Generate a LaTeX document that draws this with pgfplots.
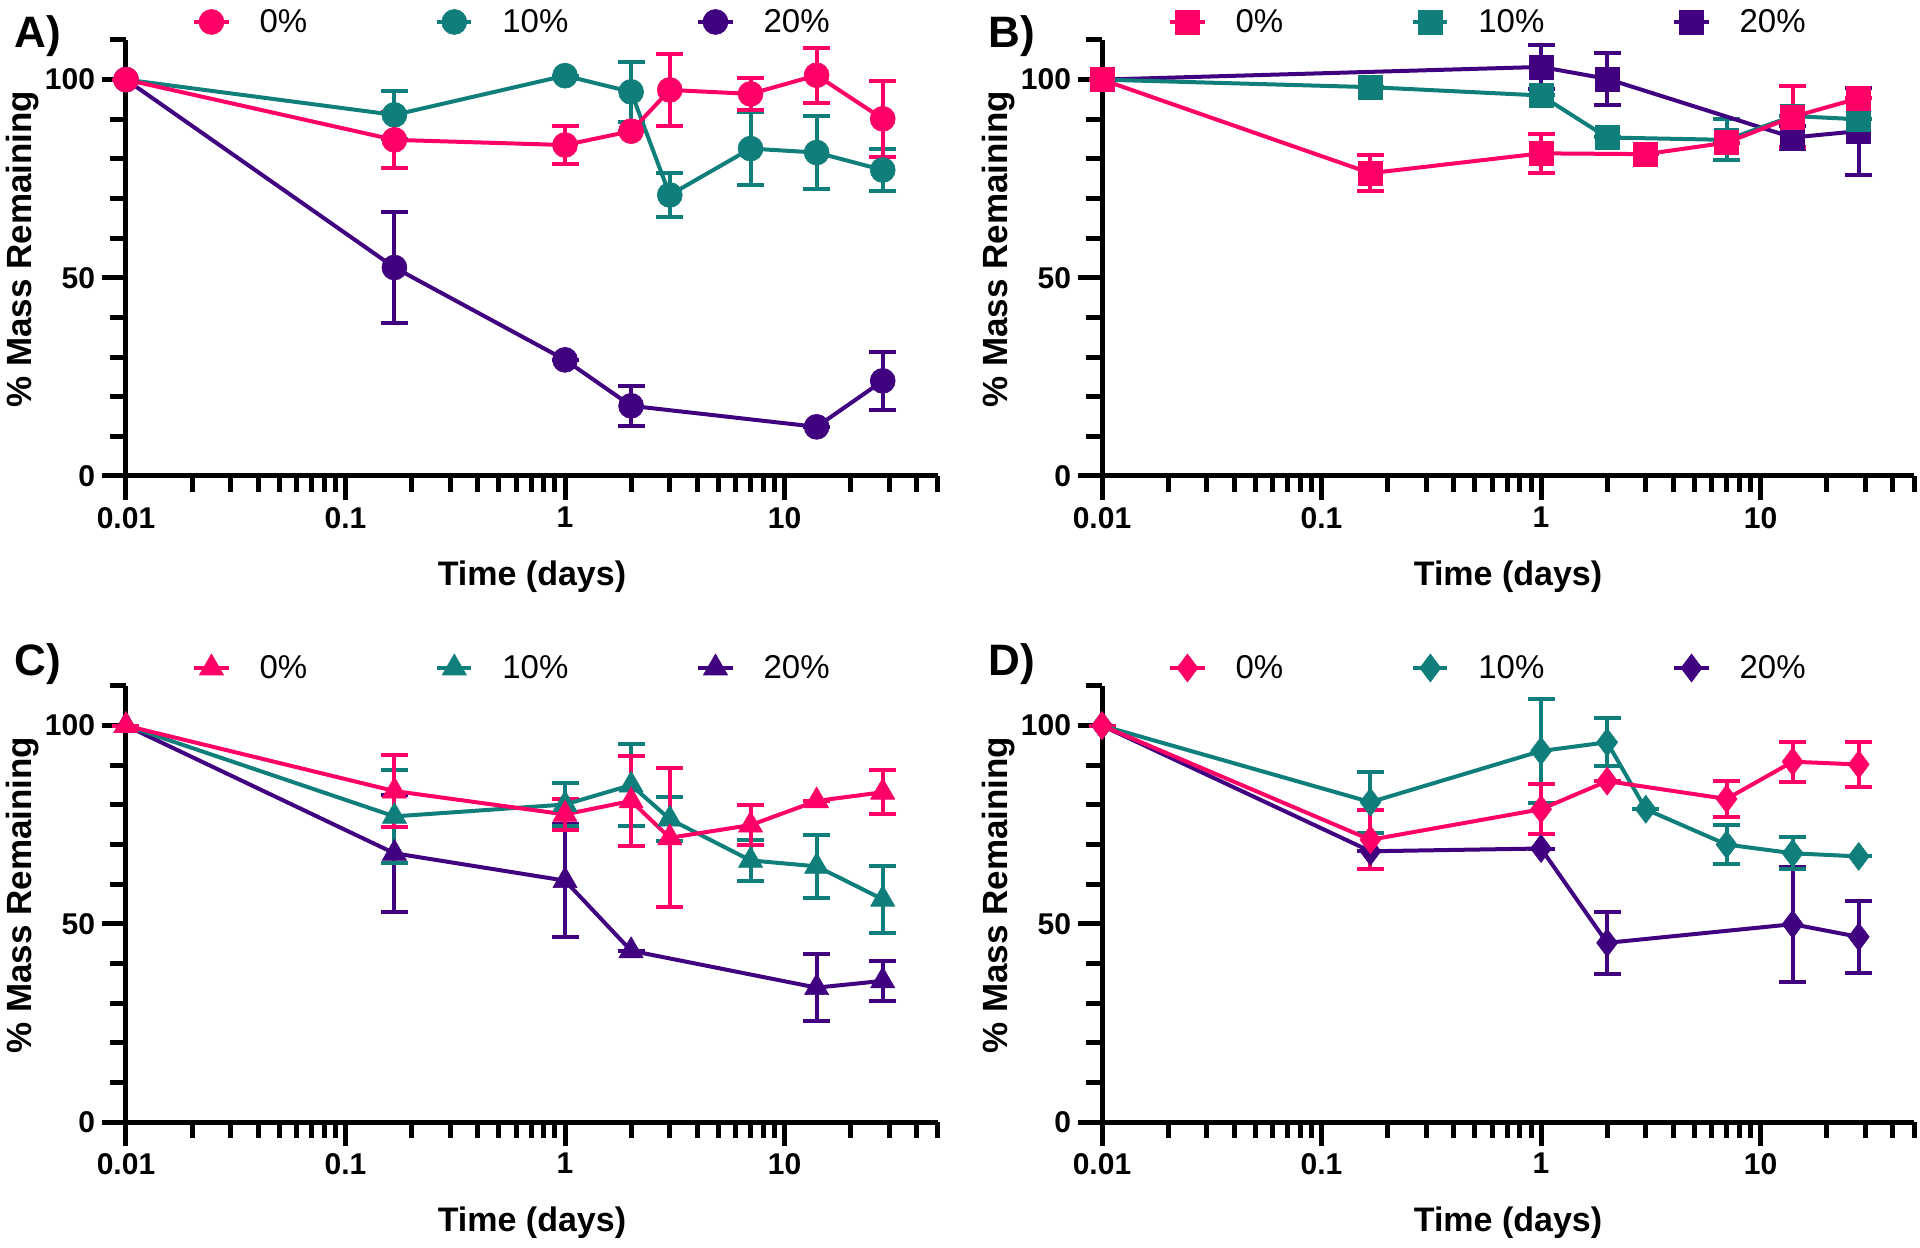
\documentclass[border=0pt]{standalone}
\usepackage{fontspec}
\setmainfont{Liberation Sans}
\usepackage{pgfplots}
\pgfplotsset{compat=1.18}
\usepackage{pgfplotstable}
\definecolor{pk}{RGB}{255,0,102}
\definecolor{tl}{RGB}{16,126,122}
\definecolor{pu}{RGB}{64,0,128}

% ---------------- data: x = time (days), y = % mass remaining, e = error
\pgfplotstableread{
x y e
0.01 100 0
0.167 84.8 7
1 83.5 4.8
2 87.0 0
3 97.4 9
7 96.4 4
14 101.1 7
28 90.1 9.6
}\Azero
\pgfplotstableread{
x y e
0.01 100 0
0.167 91.1 6
1 101 0
2 96.9 7.5
3 70.9 5.5
7 82.6 9.2
14 81.6 9.2
28 77.2 5.3
}\Aten
\pgfplotstableread{
x y e
0.01 100 0
0.167 52.6 14
1 29.3 0
2 17.7 5
14 12.4 0
28 24.0 7.3
}\Atwenty

\pgfplotstableread{
x y e
0.01 100 0
0.167 76.4 4.6
1 81.4 5
3 81.2 0
7 84.1 0
14 90.6 7.7
28 95.3 0
}\Bzero
\pgfplotstableread{
x y e
0.01 100 0
0.167 98.1 0
1 96.0 0
2 85.4 0
7 84.8 5.2
14 90.8 0
28 90.0 0
}\Bten
\pgfplotstableread{
x y e
0.01 100 0
1 103.2 5.5
2 100.2 6.5
14 85.4 3
28 87.0 11
}\Btwenty

\pgfplotstableread{
x y e
0.01 100 0
0.167 83.5 9
1 77.6 4
2 81.0 11.3
3 71.7 17.5
7 74.9 5
14 81.0 0
28 83.2 5.5
}\Czero
\pgfplotstableread{
x y e
0.01 100 0
0.167 77.1 11.8
1 80.1 5.4
2 85.0 10.4
3 76.4 5.5
7 66.0 5.2
14 64.5 8
28 56.2 8.4
}\Cten
\pgfplotstableread{
x y e
0.01 100 0
0.167 67.8 14.8
1 60.9 14.3
2 43.2 0
14 33.9 8.5
28 35.6 5
}\Ctwenty

\pgfplotstableread{
x y e
0.01 100 0
0.167 71.2 7.4
1 78.9 6.3
2 86.0 0
7 81.5 4.5
14 90.9 5
28 90.2 5.6
}\Dzero
\pgfplotstableread{
x y e
0.01 100 0
0.167 80.7 7.7
1 93.6 13
2 95.8 6
3 78.9 0
7 70.0 5
14 67.8 4
28 67.0 0
}\Dten
\pgfplotstableread{
x y e
0.01 100 0
0.167 68.3 0
1 69.0 0
2 45.2 7.8
14 49.9 14.5
28 46.7 9
}\Dtwenty

\pgfplotsset{
  every axis/.append style={
    xmode=log, scale only axis, width=406pt, height=218pt, anchor=south west,
    xmin=0.01, xmax=50, ymin=0, ymax=110, clip=false,
    axis x line*=bottom, axis y line*=left,
    axis line style={line width=2.5pt},
    xtick={0.01,0.1,1,10}, xticklabels={0.01,0.1,1,10},
    minor xtick={0.02,0.03,0.04,0.05,0.06,0.07,0.08,0.09,0.2,0.3,0.4,0.5,0.6,0.7,0.8,0.9,2,3,4,5,6,7,8,9,20,30,40,50},
    ytick={0,50,100}, yticklabels={0,50,100},
    minor ytick={10,20,30,40,60,70,80,90,110},
    tick align=outside, major tick length=12pt, minor tick length=8pt,
    tick style={black, line width=2.5pt},
    tick label style={font=\bfseries\fontsize{15}{15}\selectfont},
    xlabel={Time (days)}, ylabel={\% Mass Remaining},
    every axis x label/.style={at={(axis description cs:0.5,-0.232)}, anchor=center, font=\bfseries\fontsize{17}{17}\selectfont},
    every axis y label/.style={at={(axis description cs:-0.128,0.52)}, rotate=90, anchor=center, font=\bfseries\fontsize{17.5}{17.5}\selectfont},
    legend columns=3, reverse legend,
    legend style={draw=none, fill=none, at={(axis description cs:0,1)}, anchor=west,
      xshift=33pt, yshift=9pt, font=\fontsize{16.5}{16.5}\selectfont, inner sep=0pt,
      /tikz/every odd column/.append style={column sep=12.5pt},
      /tikz/every even column/.append style={column sep=62pt}},
  },
}

\begin{document}
\begin{tikzpicture}
\useasboundingbox (0,0) rectangle (960pt,623.5pt);

% ---------------- A
\begin{axis}[at={(63pt,385.5pt)}, mark size=6.25pt]
\addplot[forget plot, draw=none, mark=none, /pgfplots/error bars/y dir=both, /pgfplots/error bars/y explicit, /pgfplots/error bars/error bar style={draw=pu, line width=2pt}, /pgfplots/error bars/error mark options={draw=pu, line width=2pt, mark size=6.75pt, rotate=90}] table[x=x,y=y,y error=e] {\Atwenty};
\addplot[forget plot, draw=none, mark=none, /pgfplots/error bars/y dir=both, /pgfplots/error bars/y explicit, /pgfplots/error bars/error bar style={draw=tl, line width=2pt}, /pgfplots/error bars/error mark options={draw=tl, line width=2pt, mark size=6.75pt, rotate=90}] table[x=x,y=y,y error=e] {\Aten};
\addplot[forget plot, draw=none, mark=none, /pgfplots/error bars/y dir=both, /pgfplots/error bars/y explicit, /pgfplots/error bars/error bar style={draw=pk, line width=2pt}, /pgfplots/error bars/error mark options={draw=pk, line width=2pt, mark size=6.75pt, rotate=90}] table[x=x,y=y,y error=e] {\Azero};
\addplot[color=pu, line width=2pt, line join=round, mark=*, mark options={solid, fill=pu, line width=0.3pt}] table[x=x,y=y] {\Atwenty}; \addlegendentry{20\%}
\addplot[color=tl, line width=2pt, line join=round, mark=*, mark options={solid, fill=tl, line width=0.3pt}] table[x=x,y=y] {\Aten}; \addlegendentry{10\%}
\addplot[color=pk, line width=2pt, line join=round, mark=*, mark options={solid, fill=pk, line width=0.3pt}] table[x=x,y=y] {\Azero}; \addlegendentry{0\%}
\node[font=\bfseries\fontsize{22}{22}\selectfont, xshift=-44pt, yshift=2pt] at (axis description cs:0,1) {A)};
\end{axis}

% ---------------- B
\begin{axis}[at={(551pt,385.5pt)}, mark size=6pt]
\addplot[forget plot, draw=none, mark=none, /pgfplots/error bars/y dir=both, /pgfplots/error bars/y explicit, /pgfplots/error bars/error bar style={draw=pu, line width=2pt}, /pgfplots/error bars/error mark options={draw=pu, line width=2pt, mark size=6.75pt, rotate=90}] table[x=x,y=y,y error=e] {\Btwenty};
\addplot[forget plot, draw=none, mark=none, /pgfplots/error bars/y dir=both, /pgfplots/error bars/y explicit, /pgfplots/error bars/error bar style={draw=tl, line width=2pt}, /pgfplots/error bars/error mark options={draw=tl, line width=2pt, mark size=6.75pt, rotate=90}] table[x=x,y=y,y error=e] {\Bten};
\addplot[forget plot, draw=none, mark=none, /pgfplots/error bars/y dir=both, /pgfplots/error bars/y explicit, /pgfplots/error bars/error bar style={draw=pk, line width=2pt}, /pgfplots/error bars/error mark options={draw=pk, line width=2pt, mark size=6.75pt, rotate=90}] table[x=x,y=y,y error=e] {\Bzero};
\addplot[color=pu, line width=2pt, line join=round, mark=square*, mark options={solid, fill=pu, line width=0.3pt}] table[x=x,y=y] {\Btwenty}; \addlegendentry{20\%}
\addplot[color=tl, line width=2pt, line join=round, mark=square*, mark options={solid, fill=tl, line width=0.3pt}] table[x=x,y=y] {\Bten}; \addlegendentry{10\%}
\addplot[color=pk, line width=2pt, line join=round, mark=square*, mark options={solid, fill=pk, line width=0.3pt}] table[x=x,y=y] {\Bzero}; \addlegendentry{0\%}
\node[font=\bfseries\fontsize{22}{22}\selectfont, xshift=-45pt, yshift=2pt] at (axis description cs:0,1) {B)};
\end{axis}

% ---------------- C
\begin{axis}[at={(63pt,62.5pt)}, mark size=7pt]
\addplot[forget plot, draw=none, mark=none, /pgfplots/error bars/y dir=both, /pgfplots/error bars/y explicit, /pgfplots/error bars/error bar style={draw=pu, line width=2pt}, /pgfplots/error bars/error mark options={draw=pu, line width=2pt, mark size=6.75pt, rotate=90}] table[x=x,y=y,y error=e] {\Ctwenty};
\addplot[forget plot, draw=none, mark=none, /pgfplots/error bars/y dir=both, /pgfplots/error bars/y explicit, /pgfplots/error bars/error bar style={draw=tl, line width=2pt}, /pgfplots/error bars/error mark options={draw=tl, line width=2pt, mark size=6.75pt, rotate=90}] table[x=x,y=y,y error=e] {\Cten};
\addplot[forget plot, draw=none, mark=none, /pgfplots/error bars/y dir=both, /pgfplots/error bars/y explicit, /pgfplots/error bars/error bar style={draw=pk, line width=2pt}, /pgfplots/error bars/error mark options={draw=pk, line width=2pt, mark size=6.75pt, rotate=90}] table[x=x,y=y,y error=e] {\Czero};
\addplot[color=pu, line width=2pt, line join=round, mark=triangle*, mark options={solid, fill=pu, line width=0.3pt}] table[x=x,y=y] {\Ctwenty}; \addlegendentry{20\%}
\addplot[color=tl, line width=2pt, line join=round, mark=triangle*, mark options={solid, fill=tl, line width=0.3pt}] table[x=x,y=y] {\Cten}; \addlegendentry{10\%}
\addplot[color=pk, line width=2pt, line join=round, mark=triangle*, mark options={solid, fill=pk, line width=0.3pt}] table[x=x,y=y] {\Czero}; \addlegendentry{0\%}
\node[font=\bfseries\fontsize{22}{22}\selectfont, xshift=-44pt, yshift=11pt] at (axis description cs:0,1) {C)};
\end{axis}

% ---------------- D
\begin{axis}[at={(551pt,62.5pt)}, mark size=7pt]
\addplot[forget plot, draw=none, mark=none, /pgfplots/error bars/y dir=both, /pgfplots/error bars/y explicit, /pgfplots/error bars/error bar style={draw=pu, line width=2pt}, /pgfplots/error bars/error mark options={draw=pu, line width=2pt, mark size=6.75pt, rotate=90}] table[x=x,y=y,y error=e] {\Dtwenty};
\addplot[forget plot, draw=none, mark=none, /pgfplots/error bars/y dir=both, /pgfplots/error bars/y explicit, /pgfplots/error bars/error bar style={draw=tl, line width=2pt}, /pgfplots/error bars/error mark options={draw=tl, line width=2pt, mark size=6.75pt, rotate=90}] table[x=x,y=y,y error=e] {\Dten};
\addplot[forget plot, draw=none, mark=none, /pgfplots/error bars/y dir=both, /pgfplots/error bars/y explicit, /pgfplots/error bars/error bar style={draw=pk, line width=2pt}, /pgfplots/error bars/error mark options={draw=pk, line width=2pt, mark size=6.75pt, rotate=90}] table[x=x,y=y,y error=e] {\Dzero};
\addplot[color=pu, line width=2pt, line join=round, mark=diamond*, mark options={solid, fill=pu, line width=0.3pt}] table[x=x,y=y] {\Dtwenty}; \addlegendentry{20\%}
\addplot[color=tl, line width=2pt, line join=round, mark=diamond*, mark options={solid, fill=tl, line width=0.3pt}] table[x=x,y=y] {\Dten}; \addlegendentry{10\%}
\addplot[color=pk, line width=2pt, line join=round, mark=diamond*, mark options={solid, fill=pk, line width=0.3pt}] table[x=x,y=y] {\Dzero}; \addlegendentry{0\%}
\node[font=\bfseries\fontsize{22}{22}\selectfont, xshift=-45pt, yshift=11pt] at (axis description cs:0,1) {D)};
\end{axis}
\end{tikzpicture}
\end{document}
